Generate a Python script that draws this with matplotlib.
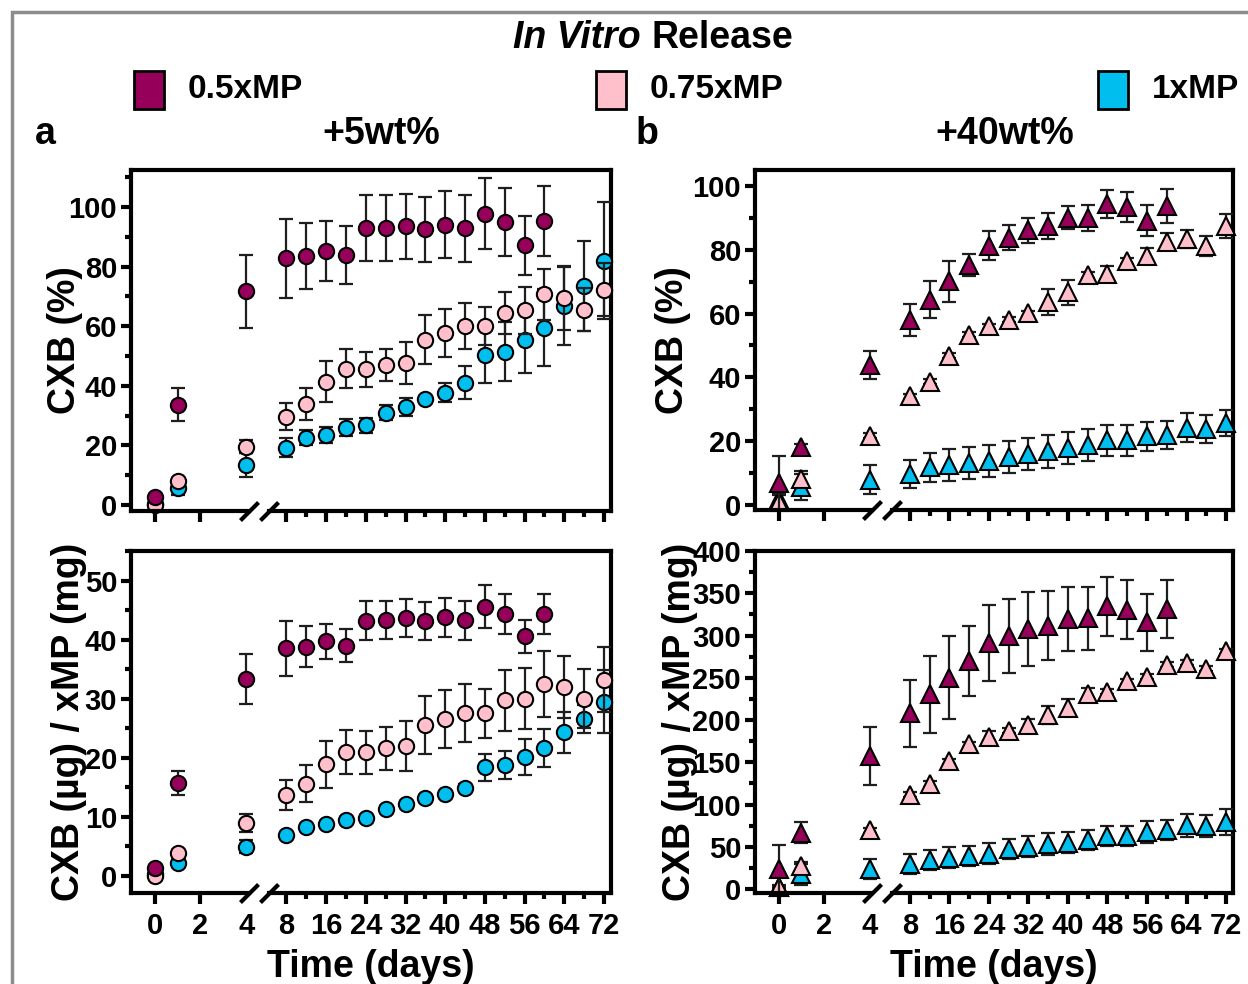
import numpy as np
import matplotlib
matplotlib.use('Agg')
import matplotlib.pyplot as plt
from matplotlib.patches import Rectangle

plt.rcParams['font.family'] = ['Liberation Sans', 'DejaVu Sans']
plt.rcParams['font.weight'] = 'bold'

# ---- data ----
days = [0, 1, 4, 8, 12, 16, 20, 24, 28, 32, 36, 40, 44, 48, 52, 56, 60, 64, 68, 72]
days_half = days[:17]          # 0.5xMP stops at day 60

labels = ['0.5xMP', '0.75xMP', '1xMP']
colors = ['#96005A', '#FFC0CB', '#00BFEF']

# +5wt%, CXB (%)
a_pct_05 = [2.8, 33.7, 71.7, 82.8, 83.5, 85.2, 83.9, 92.9, 92.9, 93.5, 92.5, 94.1, 92.8, 97.8, 95.0, 87.2, 95.3]
a_pct_05_sd = [1.0, 5.5, 12.2, 13.3, 11.0, 10.2, 9.7, 11.0, 11.0, 11.0, 11.0, 11.3, 11.2, 12.0, 11.3, 9.9, 11.6]
a_pct_075 = [0.0, 8.0, 19.6, 29.7, 33.8, 41.4, 45.7, 45.5, 46.9, 47.7, 55.5, 57.8, 60.1, 60.1, 64.5, 65.3, 70.7, 69.5, 65.5, 72.3]
a_pct_075_sd = [0.3, 1.0, 2.2, 4.5, 5.3, 6.9, 6.5, 6.0, 5.4, 7.0, 8.1, 8.0, 7.8, 6.4, 7.0, 8.0, 8.6, 10.8, 7.2, 8.8]
a_pct_1 = [0.5, 5.7, 13.4, 19.3, 22.6, 23.5, 26.0, 26.7, 30.9, 33.0, 35.7, 37.7, 41.1, 50.4, 51.5, 55.4, 59.5, 66.7, 73.5, 81.9]
a_pct_1_sd = [0.3, 2.3, 4.0, 3.1, 2.5, 2.6, 2.9, 2.5, 2.5, 3.0, 1.0, 3.2, 5.5, 9.4, 9.9, 11.2, 13.0, 13.0, 15.1, 19.6]

# +5wt%, CXB (ug) / xMP (mg)
a_mass_05 = [1.4, 15.7, 33.3, 38.5, 38.8, 39.7, 39.0, 43.2, 43.3, 43.7, 43.2, 43.8, 43.3, 45.6, 44.3, 40.6, 44.3]
a_mass_05_sd = [0.5, 2.0, 4.2, 4.6, 3.5, 3.0, 2.8, 3.3, 3.2, 3.2, 3.2, 3.3, 3.3, 3.6, 3.4, 2.8, 3.4]
a_mass_075 = [0.0, 3.8, 9.0, 13.7, 15.6, 18.9, 21.0, 20.9, 21.6, 22.0, 25.6, 26.6, 27.6, 27.5, 29.7, 30.0, 32.5, 32.0, 30.0, 33.2]
a_mass_075_sd = [0.2, 0.5, 1.5, 2.6, 3.1, 4.0, 3.7, 3.7, 3.6, 4.2, 4.9, 4.9, 4.9, 4.2, 5.1, 5.2, 5.6, 5.3, 5.0, 5.5]
a_mass_1 = [0.3, 2.2, 4.9, 7.0, 8.3, 8.7, 9.4, 9.8, 11.3, 12.1, 13.1, 13.8, 14.9, 18.4, 18.8, 20.1, 21.6, 24.3, 26.6, 29.5]
a_mass_1_sd = [0.2, 0.5, 1.1, 0.5, 0.5, 0.5, 0.5, 0.5, 0.6, 0.6, 0.6, 0.6, 0.7, 2.3, 2.4, 3.0, 3.2, 3.5, 2.4, 5.3]

# +40wt%, CXB (%)
b_pct_05 = [6.8, 18.2, 43.9, 58.0, 64.3, 70.1, 75.3, 81.3, 83.8, 86.1, 87.5, 90.0, 90.0, 94.4, 93.4, 89.1, 93.7]
b_pct_05_sd = [8.5, 1.0, 4.5, 5.0, 5.8, 6.4, 3.5, 4.5, 4.0, 4.0, 4.0, 3.6, 4.0, 4.4, 4.6, 4.9, 5.4]
b_pct_075 = [1.0, 8.1, 21.7, 34.1, 38.6, 46.7, 53.4, 56.0, 58.0, 60.1, 63.6, 66.7, 72.0, 72.5, 76.4, 78.0, 82.5, 83.5, 81.2, 87.5]
b_pct_075_sd = [2.5, 2.4, 0.8, 0.8, 0.8, 0.8, 0.8, 0.8, 0.8, 0.8, 4.2, 3.9, 1.0, 2.3, 1.0, 2.4, 2.7, 2.8, 3.2, 3.7]
b_pct_1 = [2.0, 5.7, 7.9, 9.7, 11.8, 12.4, 13.0, 13.9, 14.9, 16.0, 16.8, 17.9, 18.7, 20.2, 20.2, 21.5, 21.8, 24.2, 23.8, 25.7]
b_pct_1_sd = [1.0, 4.1, 4.5, 4.5, 4.6, 5.0, 5.0, 5.0, 5.0, 5.1, 5.1, 5.1, 5.0, 5.0, 5.0, 4.6, 4.4, 4.5, 4.4, 4.2]

# +40wt%, CXB (ug) / xMP (mg)
b_mass_05 = [23.5, 66.7, 157.6, 207.8, 230.2, 250.2, 269.8, 291.4, 299.2, 307.8, 311.8, 319.6, 320.4, 334.5, 330.6, 315.7, 331.4]
b_mass_05_sd = [29, 12.5, 34, 40, 45, 49, 41, 45, 44, 44, 41, 38, 37, 35, 35, 34, 34]
b_mass_075 = [2.7, 27.5, 69.4, 111.8, 124.3, 151.0, 171.4, 180.4, 187.1, 194.1, 205.9, 214.5, 230.6, 233.3, 245.9, 251.0, 265.5, 267.8, 260.8, 281.2]
b_mass_075_sd = [2, 5, 3, 3, 3, 3, 3, 7, 3, 7, 11, 10, 7, 3, 3, 3, 3, 3, 3, 3]
b_mass_1 = [2.0, 17.6, 23.5, 29.4, 34.1, 37.3, 39.2, 42.0, 47.1, 50.2, 52.9, 54.9, 58.0, 62.7, 62.7, 67.5, 69.8, 75.3, 74.5, 79.2]
b_mass_1_sd = [1, 12.5, 12, 12, 12, 12.3, 12.3, 12, 12, 12.7, 13, 12.5, 12.2, 11.8, 12.2, 12.5, 11.8, 13.7, 13.1, 15.2]

xmajor = [0, 2, 4, 8, 16, 24, 32, 40, 48, 56, 64, 72]
xminor = [12, 20, 28, 36, 44, 52, 60, 68]

# ---- broken time axis: 0-4 wide, 8-72 compressed ----
U8 = 5.75
K = 0.2165


def fwd(t):
    t = np.asarray(t, dtype=float)
    mid = 4 + (t - 4) * (U8 - 4) / 4
    return np.where(t <= 4, t, np.where(t >= 8, U8 + (t - 8) * K, mid))


def inv(u):
    u = np.asarray(u, dtype=float)
    mid = 4 + (u - 4) * 4 / (U8 - 4)
    return np.where(u <= 4, u, np.where(u >= U8, 8 + (u - U8) / K, mid))


XMIN, XMAX = -1.03, 73.4
BRK1, BRK2 = 4.25, 6.26

W, H = 1248, 984
fig = plt.figure(figsize=(W / 100, H / 100), dpi=100)


def box(l, r, t, b):
    return [l / W, 1 - b / H, (r - l) / W, (b - t) / H]


def fx(x):
    return x / W


def fy(y):
    return 1 - y / H


def panel(rect, series, marker, ms, ylim, ymaj, ymin, ylabel, ylab_x, show_x):
    ax = fig.add_axes(rect)
    ax.set_xscale('function', functions=(fwd, inv))
    ax.set_xlim(XMIN, XMAX)
    ax.set_ylim(*ylim)
    # draw 1xMP first, 0.5xMP last (on top)
    for z, (x, y, sd, c) in enumerate(reversed(series)):
        ax.errorbar(x, y, yerr=sd, fmt='none', ecolor='#1e1e1e', elinewidth=1.6,
                    capsize=4.7, capthick=1.6, zorder=3 + z, clip_on=False)
        ax.plot(x, y, ls='none', marker=marker, ms=ms, mfc=c, mec='black',
                mew=1.5, zorder=3.5 + z, clip_on=False)
    for s in ['left', 'top', 'right']:
        ax.spines[s].set_linewidth(3)
    ax.spines['bottom'].set_visible(False)
    tr = ax.get_xaxis_transform()
    ax.plot([XMIN, BRK1], [0, 0], color='black', lw=3, transform=tr,
            clip_on=False, solid_capstyle='projecting', zorder=10)
    ax.plot([BRK2, XMAX], [0, 0], color='black', lw=3, transform=tr,
            clip_on=False, solid_capstyle='projecting', zorder=10)
    ax.plot([BRK1, BRK2], [0, 0], ls='none', marker=[(-1, -1), (1, 1)], ms=13,
            mew=3, mec='black', transform=tr, clip_on=False, zorder=10)
    ax.set_xticks(xmajor)
    ax.set_xticklabels([str(v) for v in xmajor] if show_x else [])
    ax.set_xticks(xminor, minor=True)
    ax.xaxis.get_major_ticks()[2].tick1line.set_visible(False)
    ax.set_yticks(ymaj)
    ax.set_yticks(ymin, minor=True)
    ax.tick_params(axis='x', which='major', length=8, width=3, labelsize=21, pad=6)
    ax.tick_params(axis='x', which='minor', length=4, width=3)
    ax.tick_params(axis='y', which='major', length=7, width=3, labelsize=21, pad=3)
    ax.tick_params(axis='y', which='minor', length=4, width=3)
    ax.text(ylab_x, 0.5, ylabel, transform=ax.transAxes, rotation=90,
            ha='center', va='center', fontsize=27, fontweight='bold')
    if show_x:
        ax.set_xlabel('Time (days)', fontsize=27, fontweight='bold', labelpad=6)
    return ax


def series_of(v05, s05, v075, s075, v1, s1):
    return [(days_half, v05, s05, colors[0]),
            (days, v075, s075, colors[1]),
            (days, v1, s1, colors[2])]


panel(box(131, 611, 170, 511),
      series_of(a_pct_05, a_pct_05_sd, a_pct_075, a_pct_075_sd, a_pct_1, a_pct_1_sd),
      'o', 11, (-2.0, 112.4), np.arange(0, 101, 20), np.arange(10, 111, 20),
      'CXB (%)', -0.137, False)
panel(box(755, 1233, 170, 510),
      series_of(b_pct_05, b_pct_05_sd, b_pct_075, b_pct_075_sd, b_pct_1, b_pct_1_sd),
      '^', 12.5, (-1.6, 105.0), np.arange(0, 101, 20), np.arange(10, 100, 20),
      'CXB (%)', -0.172, False)
panel(box(131, 611, 551, 893),
      series_of(a_mass_05, a_mass_05_sd, a_mass_075, a_mass_075_sd, a_mass_1, a_mass_1_sd),
      'o', 11, (-2.9, 54.9), np.arange(0, 51, 10), np.arange(5, 56, 10),
      'CXB (µg) / xMP (mg)', -0.13, True)
panel(box(755, 1233, 551, 893),
      series_of(b_mass_05, b_mass_05_sd, b_mass_075, b_mass_075_sd, b_mass_1, b_mass_1_sd),
      '^', 12.5, (-4.7, 400), np.arange(0, 401, 50), np.arange(25, 400, 50),
      'CXB (µg) / xMP (mg)', -0.157, True)

# ---- title, legend, panel headers ----
fig.text(fx(641), fy(38), 'In Vitro', ha='right', va='center', fontsize=27,
         fontweight='bold', fontstyle='italic')
fig.text(fx(651), fy(38), 'Release', ha='left', va='center', fontsize=27,
         fontweight='bold')

leg_x = [134, 596, 1098]
for lx, lab, c in zip(leg_x, labels, colors):
    fig.add_artist(Rectangle((fx(lx), fy(109)), 30 / W, 38 / H, transform=fig.transFigure,
                             facecolor=c, edgecolor='black', lw=2))
    fig.text(fx(lx + 54), fy(90), lab, ha='left', va='center', fontsize=24,
             fontweight='bold')

fig.text(fx(45), fy(134), 'a', ha='center', va='center', fontsize=27, fontweight='bold')
fig.text(fx(381), fy(134), '+5wt%', ha='center', va='center', fontsize=27, fontweight='bold')
fig.text(fx(647), fy(134), 'b', ha='center', va='center', fontsize=27, fontweight='bold')
fig.text(fx(1005), fy(134), '+40wt%', ha='center', va='center', fontsize=27, fontweight='bold')

# grey frame around the figure
fig.add_artist(Rectangle((fx(12), fy(1000)), (1250 - 12) / W, (1000 - 12) / H,
                         transform=fig.transFigure, facecolor='none',
                         edgecolor='#8c8c8c', lw=2.5, clip_on=False))

fig.savefig('out.png', dpi=100)
